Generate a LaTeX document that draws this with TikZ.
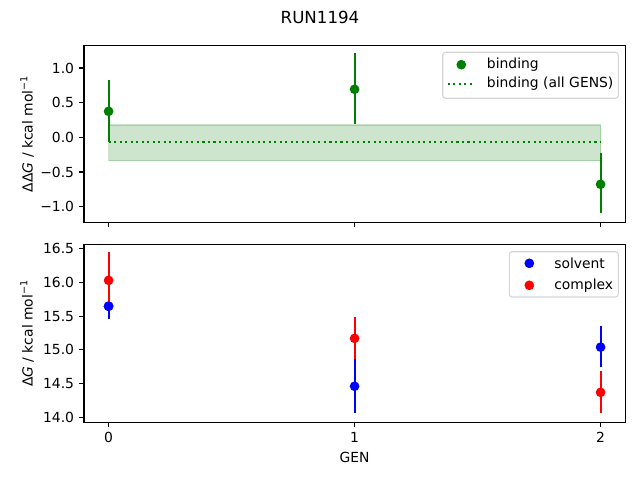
\documentclass[tikz,border=0pt]{standalone}
\usepackage{fontspec}
\setmainfont{DejaVu Sans}
\definecolor{mgreen}{HTML}{008000}
\definecolor{mblue}{HTML}{0000FF}
\definecolor{mred}{HTML}{FF0000}
\definecolor{lframe}{HTML}{CCCCCC}
\begin{document}
\begin{tikzpicture}[x=0.72pt,y=-0.72pt,
  spine/.style={line width=0.8pt},
  tickmark/.style={line width=0.8pt},
  ticklab/.style={font=\fontsize{10}{12}\selectfont, inner sep=0pt},
  axlab/.style={font=\fontsize{10}{12}\selectfont, inner sep=0pt},
  ebar/.style={line width=1.5pt},
  legframe/.style={draw=lframe, line width=0.8pt, fill=white, fill opacity=0.8, draw opacity=0.8, rounded corners=2pt},
  legtext/.style={font=\fontsize{10}{12}\selectfont, inner sep=0pt, anchor=west}]
\useasboundingbox (0,0) rectangle (640,480);
\fill[white] (0,0) rectangle (640,480);

% title
\node[font=\fontsize{12}{14}\selectfont, inner sep=0pt] (title) at (320,17) {RUN1194};

% ===== top axes data =====
\begin{scope}[shift={(78.192pt,-98.856pt)}, x=177.12pt, y=49.896pt]
  \fill[mgreen, fill opacity=0.2] (0,0.177) rectangle (2,-0.338);
  \draw[mgreen, opacity=0.2, line width=1pt] (0,0.177) rectangle (2,-0.338);
  \draw[mgreen, line width=1.5pt, dash pattern=on 1.5pt off 2.475pt] (0,-0.063) -- (2,-0.063);
  \draw[ebar, mgreen] (0,-0.063) -- (0,0.827);
  \fill[mgreen] (0,0.375) circle[radius=3.5pt];
  \draw[ebar, mgreen] (1,0.19) -- (1,1.22);
  \fill[mgreen] (1,0.693) circle[radius=3.5pt];
  \draw[ebar, mgreen] (2,-1.097) -- (2,-0.222);
  \fill[mgreen] (2,-0.678) circle[radius=3.5pt];
\end{scope}

% top spines
\draw[spine] (84,45.3) rectangle (625.3,222.3);
% top y ticks
\foreach \v/\l in {1/1.0, 0.5/0.5, 0/0.0, -0.5/−0.5, -1/−1.0} {
  \draw[tickmark] (84,{137.3-69.3*\v}) -- ++(-4.86,0);
  \node[ticklab, anchor=east] at (74.3,{137.3-69.3*\v}) {\l};
}
% top x ticks
\foreach \v in {0,1,2} {
  \draw[tickmark] ({108.6+246*\v},222.3) -- ++(0,4.86);
}
\node[axlab, rotate=90, anchor=base] (ylab1) at (32.5,133.8) {ΔΔ\textit{G} / kcal mol\textsuperscript{−1}};

% top legend
\draw[legframe] (442.7,52.3) rectangle (618.3,98.3);
\fill[mgreen] (461.3,64.7) circle[radius=3.5pt];
\node[legtext] (lb1) at (486.7,64.7) {binding};
\draw[mgreen, line width=1.5pt, dash pattern=on 1.5pt off 2.475pt] (447.7,84) -- (475,84);
\node[legtext] (lb2) at (486.7,84) {binding (all GENS)};

% ===== bottom axes data =====
\begin{scope}[shift={(78.192pt,-300.456pt)}, x=177.12pt, y=48.578pt]
  % solvent (value-14)
  \draw[ebar, mblue] (0,1.46) -- (0,1.83);
  \fill[mblue] (0,1.646) circle[radius=3.5pt];
  \draw[ebar, mblue] (1,0.07) -- (1,0.87);
  \fill[mblue] (1,0.46) circle[radius=3.5pt];
  \draw[ebar, mblue] (2,0.74) -- (2,1.35);
  \fill[mblue] (2,1.04) circle[radius=3.5pt];
  % complex
  \draw[ebar, mred] (0,1.64) -- (0,2.45);
  \fill[mred] (0,2.03) circle[radius=3.5pt];
  \draw[ebar, mred] (1,0.87) -- (1,1.49);
  \fill[mred] (1,1.17) circle[radius=3.5pt];
  \draw[ebar, mred] (2,0.06) -- (2,0.69);
  \fill[mred] (2,0.37) circle[radius=3.5pt];
  \fill[mblue] (0,1.646) circle[radius=3.5pt];
\end{scope}

% bottom spines
\draw[spine] (84,244.3) rectangle (625.3,422.3);
\foreach \v/\l in {16.5/16.5, 16/16.0, 15.5/15.5, 15/15.0, 14.5/14.5, 14/14.0} {
  \draw[tickmark] (84,{417.3-67.47*(\v-14)}) -- ++(-4.86,0);
  \node[ticklab, anchor=east] at (74.3,{417.3-67.47*(\v-14)}) {\l};
}
\foreach \v in {0,1,2} {
  \draw[tickmark] ({108.6+246*\v},422.3) -- ++(0,4.86);
  \node[ticklab, anchor=north] at ({108.6+246*\v},432.2) {\v};
}
\node[axlab, anchor=north] (xlab) at (354.6,451.5) {GEN};
\node[axlab, rotate=90, anchor=base] (ylab2) at (32.5,333.3) {Δ\textit{G} / kcal mol\textsuperscript{−1}};

% bottom legend
\draw[legframe] (509.3,251.7) rectangle (618.3,297);
\fill[mblue] (529.3,263.3) circle[radius=3.5pt];
\node[legtext] (ls1) at (554,263.3) {solvent};
\fill[mred] (529.3,285.3) circle[radius=3.5pt];
\node[legtext] (ls2) at (554,285.3) {complex};
\end{tikzpicture}
\end{document}
